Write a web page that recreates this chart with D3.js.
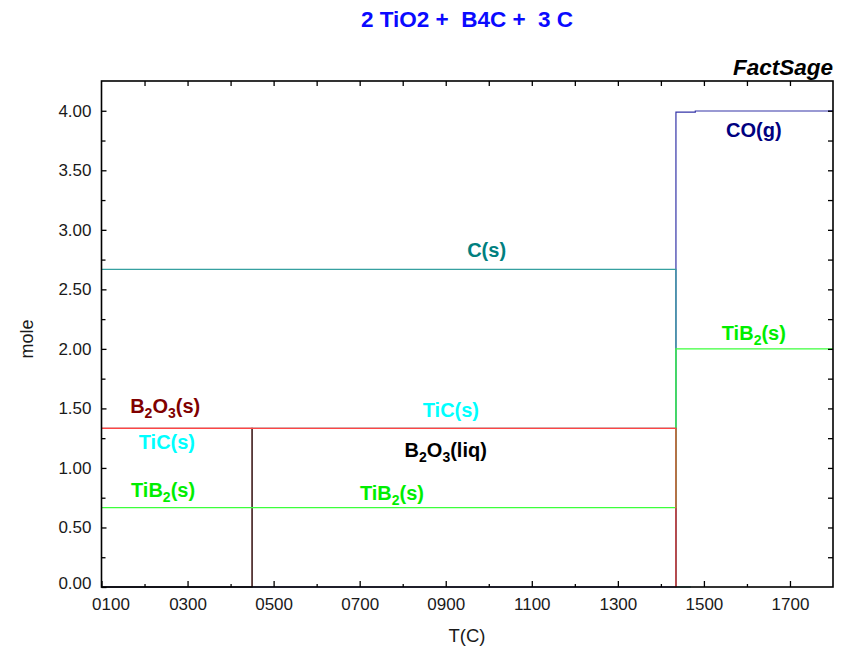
<!DOCTYPE html>
<html><head><meta charset="utf-8">
<script src="https://cdn.jsdelivr.net/npm/d3@7"></script>
<style>
html,body{margin:0;padding:0;background:#fff;}
svg{display:block;font-family:"Liberation Sans",Arial,Helvetica,sans-serif;}
</style></head><body>
<svg id="chart" width="845" height="652"></svg>
<script>
// Equilibrium amounts (mol) against temperature (°C).
// Each pair of lists is a step function: the amount holds until the next temperature.
const coT = [100, 1435, 1480, 1790, 1800];
const coMole = [0, 3.988, 3.998, 4.0, 4.0];
const carbonT = [100, 1435, 1470];
const carbonMole = [2.667, 0, 0];
const b2o3SolidT = [100, 450];
const b2o3SolidMole = [1.333, 0];
const b2o3LiqT = [100, 450, 1435];
const b2o3LiqMole = [0, 1.333, 0];
const tib2T = [100, 1435, 1800];
const tib2Mole = [0.667, 2.0, 2.0];
const ticT = [100, 1435];
const ticMole = [1.333, 0];

const xTickValues = [100, 300, 500, 700, 900, 1100, 1300, 1500, 1700];
const xTickLabels = ["0100", "0300", "0500", "0700", "0900", "1100", "1300", "1500", "1700"];
const yTickValues = [0, 0.5, 1, 1.5, 2, 2.5, 3, 3.5, 4];
const yTickLabels = ["0.00", "0.50", "1.00", "1.50", "2.00", "2.50", "3.00", "3.50", "4.00"];

const titleText = "2 TiO2 +  B4C +  3 C";

// Species labels: text parts [main, subscript] anchored at (T, mole)
const labelParts = [
  [["C(s)", ""]],
  [["CO(g)", ""]],
  [["TiB", "2"], ["(s)", ""]],
  [["B", "2"], ["O", "3"], ["(s)", ""]],
  [["TiC(s)", ""]],
  [["TiC(s)", ""]],
  [["B", "2"], ["O", "3"], ["(liq)", ""]],
  [["TiB", "2"], ["(s)", ""]],
  [["TiB", "2"], ["(s)", ""]]
];
const labelT =    [995, 1616, 1616, 248, 912, 252, 900, 243, 775];
const labelMole = [2.77, 3.78, 2.075, 1.46, 1.43, 1.16, 1.09, 0.76, 0.73];
const labelColor = ["#008080", "#000080", "#00ee00", "#800000", "#00ffff", "#00ffff", "#000000", "#00ee00", "#00ee00"];

const svg = d3.select("#chart");
const L = 101.5, R = 833, T = 81, B = 587;

const x = d3.scaleLinear().domain([100, 1800]).range([L, R]);
const y = d3.scaleLinear().domain([0, 4.25]).range([B, T]);

// title and brand
svg.append("text")
  .attr("x", 467).attr("y", 27)
  .attr("text-anchor", "middle")
  .style("white-space", "pre")
  .attr("font-size", 22.5).attr("font-weight", "bold")
  .attr("fill", "#0a0aff")
  .text(titleText);

svg.append("text")
  .attr("x", R).attr("y", 75)
  .attr("text-anchor", "end")
  .attr("font-size", 22.5).attr("font-weight", "bold").attr("font-style", "italic")
  .attr("fill", "#000")
  .text("FactSage");

// species curves, drawn in stacking order
const line = d3.line().x(d => x(d[0])).y(d => y(d[1])).curve(d3.curveStepAfter);
const series = [
  { t: coT, m: coMole, color: "#3434a8" },
  { t: carbonT, m: carbonMole, color: "#36a0a0" },
  { t: b2o3SolidT, m: b2o3SolidMole, color: "#800000" },
  { t: b2o3LiqT, m: b2o3LiqMole, color: "#333333" },
  { t: tib2T, m: tib2Mole, color: "#3cff3c" },
  { t: ticT, m: ticMole, color: "#ff4444" }
];
const plot = svg.append("g");
series.forEach(s => {
  plot.append("path")
    .datum(s.t.map((t, i) => [t, s.m[i]]))
    .attr("d", line)
    .attr("fill", "none")
    .attr("stroke", s.color)
    .attr("stroke-width", 1.2);
});

// axes: ticks point into the plot
function styleAxis(g) {
  g.select(".domain").remove();
  g.selectAll(".tick line").attr("stroke", "#000").attr("stroke-width", 1.3);
  g.selectAll(".tick text").attr("fill", "#1a1a1a").attr("font-size", 17)
    .attr("font-family", "Liberation Sans, Arial, sans-serif");
}

const xMinor = d3.range(200, 1800, 200);
svg.append("g").attr("transform", `translate(0,${B})`)
  .call(d3.axisBottom(x).tickValues(xMinor).tickSize(-3).tickFormat(""))
  .call(styleAxis);
const xAxis = svg.append("g").attr("transform", `translate(0,${B})`)
  .call(d3.axisBottom(x).tickValues(xTickValues).tickSize(-6).tickPadding(11)
    .tickFormat((d, i) => xTickLabels[i]))
  .call(styleAxis);
// first label sits inside the left edge
xAxis.selectAll(".tick").filter(d => d === 100).select("text").attr("x", 9);
svg.append("g").attr("transform", `translate(0,${T})`)
  .call(d3.axisTop(x).tickValues(d3.range(200, 1800, 100)).tickSize(-5).tickFormat(""))
  .call(styleAxis);

const yMinor = d3.range(0.25, 4.25, 0.5);
svg.append("g").attr("transform", `translate(${L},0)`)
  .call(d3.axisLeft(y).tickValues(yMinor).tickSize(-4).tickFormat(""))
  .call(styleAxis);
const yAxis = svg.append("g").attr("transform", `translate(${L},0)`)
  .call(d3.axisLeft(y).tickValues(yTickValues).tickSize(-5).tickPadding(10)
    .tickFormat((d, i) => yTickLabels[i]))
  .call(styleAxis);
// keep the bottom label clear of the x labels
yAxis.selectAll(".tick").filter(d => d === 0).select("text").attr("y", -4);
svg.append("g").attr("transform", `translate(${R},0)`)
  .call(d3.axisRight(y).tickValues(d3.range(0.25, 4.25, 0.25)).tickSize(-5).tickFormat(""))
  .call(styleAxis);

// plot frame
svg.append("rect")
  .attr("x", L).attr("y", T).attr("width", R - L).attr("height", B - T)
  .attr("fill", "none").attr("stroke", "#000").attr("stroke-width", 1.6);

// axis titles
svg.append("text")
  .attr("transform", `translate(33,${(T + B) / 2 + 5}) rotate(-90)`)
  .attr("text-anchor", "middle").attr("font-size", 18).attr("fill", "#1a1a1a")
  .text("mole");
svg.append("text")
  .attr("x", 467).attr("y", 642)
  .attr("text-anchor", "middle").attr("font-size", 18.5).attr("fill", "#1a1a1a")
  .text("T(C)");

// species labels with chemical subscripts
labelParts.forEach((parts, k) => {
  const txt = svg.append("text")
    .attr("x", x(labelT[k])).attr("y", y(labelMole[k]))
    .attr("text-anchor", "middle")
    .attr("font-size", 20).attr("font-weight", "bold")
    .attr("fill", labelColor[k]);
  let shift = 0;
  parts.forEach(([main, sub]) => {
    txt.append("tspan").attr("dy", -shift).text(main);
    shift = 0;
    if (sub) {
      txt.append("tspan").attr("font-size", 14).attr("dy", 5).text(sub);
      shift = 5;
    }
  });
});
</script>
</body></html>
